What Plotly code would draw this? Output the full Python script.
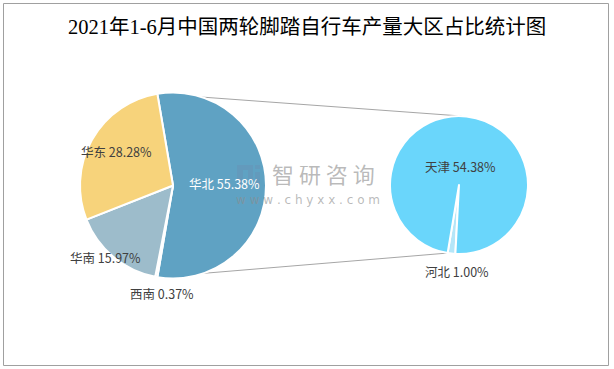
import math
import plotly.graph_objects as go

W, H = 614, 369

title_text = "2021年1-6月中国两轮脚踏自行车产量大区占比统计图"

main_labels = ["华北", "西南", "华南", "华东"]
main_values = [55.38, 0.37, 15.97, 28.28]
main_colors = ["#5FA2C3", "#8FAFC0", "#9DBCCB", "#F7D37B"]

sub_labels = ["河北", "天津"]
sub_values = [1.00, 54.38]
sub_colors = ["#B5E6F8", "#6AD6FB"]

# geometry in pixels
L_CX, L_CY, L_R = 173, 185.5, 93
R_CX, R_CY, R_R = 459, 185, 69

# label radial factors, pixel nudges and colors
main_lab_r = [0.56, 1.16, 1.05, 0.71]
main_lab_d = [(-1, -2), (8, 2), (-5, -3), (1, -2)]
main_lab_c = ["#FFFFFF", "#404040", "#404040", "#404040"]
sub_lab_r = [1.26, 0.25]
sub_lab_d = [(7, 0), (0, -1)]
sub_lab_c = ["#404040", "#404040"]

FONT = "Microsoft YaHei, Noto Sans CJK SC, sans-serif"
LAB_SIZE = 12.5


def domain(cx, cy, r):
    return dict(x=[(cx - r) / W, (cx + r) / W], y=[1 - (cy + r) / H, 1 - (cy - r) / H])


def px(x, y):
    return x / W, 1 - y / H


def pt(cx, cy, r, ang):
    a = math.radians(ang)
    return cx + r * math.sin(a), cy - r * math.cos(a)


def spans(values, rot):
    tot = sum(values)
    a = rot
    out = []
    for v in values:
        s = v / tot * 360
        out.append((a, a + s))
        a += s
    return out


main_rot = 90 - main_values[0] / sum(main_values) * 360 / 2
sub_rot = 183

fig = go.Figure()
fig.add_trace(go.Pie(
    labels=main_labels, values=main_values, sort=False, direction="clockwise",
    rotation=main_rot, domain=domain(L_CX, L_CY, L_R),
    marker=dict(colors=main_colors, line=dict(color="white", width=2)),
    textinfo="none", hoverinfo="skip", showlegend=False,
))
fig.add_trace(go.Pie(
    labels=sub_labels, values=sub_values, sort=False, direction="clockwise",
    rotation=sub_rot, domain=domain(R_CX, R_CY, R_R),
    marker=dict(colors=sub_colors, line=dict(color="white", width=2)),
    textinfo="none", hoverinfo="skip", showlegend=False,
))

annotations = []
shapes = []

# title
tx, ty = px(W / 2, 27)
annotations.append(dict(x=tx, y=ty, xref="paper", yref="paper", text=title_text,
                        showarrow=False, xanchor="center", yanchor="middle",
                        font=dict(family="Liberation Serif, Noto Sans CJK SC, serif", size=20.5, color="#000000")))


def add_labels(sp, labels, values, rfs, ds, cols, cx, cy, r):
    for (a0, a1), lab, val, rf, (dx, dy), col in zip(sp, labels, values, rfs, ds, cols):
        x, y = pt(cx, cy, r * rf, (a0 + a1) / 2)
        xp, yp = px(x + dx, y + dy)
        annotations.append(dict(x=xp, y=yp, xref="paper", yref="paper", text=f"{lab} {val:.2f}%",
                                showarrow=False, xanchor="center", yanchor="middle",
                                font=dict(family=FONT, size=LAB_SIZE, color=col)))


main_sp = spans(main_values, main_rot)
sub_sp = spans(sub_values, sub_rot)
add_labels(main_sp, main_labels, main_values, main_lab_r, main_lab_d, main_lab_c, L_CX, L_CY, L_R)
add_labels(sub_sp, sub_labels, sub_values, sub_lab_r, sub_lab_d, sub_lab_c, R_CX, R_CY, R_R)

# connector lines
p1 = pt(L_CX, L_CY, L_R, main_sp[0][0])
p2 = pt(R_CX, R_CY, R_R, 2)
p3 = pt(L_CX, L_CY, L_R, main_sp[0][1])
p4 = pt(R_CX, R_CY, R_R, sub_sp[0][1])
for a, b in [(p1, p2), (p3, p4)]:
    x0, y0 = px(*a)
    x1, y1 = px(*b)
    shapes.append(dict(type="line", xref="paper", yref="paper", x0=x0, y0=y0, x1=x1, y1=y1,
                       line=dict(color="#A6A6A6", width=1), layer="below"))

# border
bx0, by0 = px(3.5, 3.5)
bx1, by1 = px(608.5, 365.5)
shapes.append(dict(type="rect", xref="paper", yref="paper", x0=bx0, y0=by0, x1=bx1, y1=by1,
                   line=dict(color="#A0A0A0", width=1), layer="below"))

# watermark logo
logo_col = "rgba(110,140,175,0.35)"
for (ax0, ay0, ax1, ay1) in [(237, 165, 243, 187), (243, 165, 253, 170), (248, 170, 253, 180),
                             (255, 165, 260, 169), (255, 172, 260, 187)]:
    x0, y0 = px(ax0, ay0)
    x1, y1 = px(ax1, ay1)
    shapes.append(dict(type="rect", xref="paper", yref="paper", x0=x0, y0=y0, x1=x1, y1=y1,
                       line=dict(width=0), fillcolor=logo_col, layer="above"))

wx, wy = px(323.5, 191)
annotations.append(dict(x=wx, y=wy, xref="paper", yref="paper", text="智 研 咨 询",
                        showarrow=False, xanchor="center", yanchor="bottom",
                        font=dict(family="Noto Sans CJK SC", size=22, color="rgba(140,140,140,0.6)")))
wx2, wy2 = px(307.5, 191)
annotations.append(dict(x=wx2, y=wy2, xref="paper", yref="paper", text="w w w . c h y x x . c o m",
                        showarrow=False, xanchor="center", yanchor="top",
                        font=dict(family="DejaVu Sans", size=12, color="rgba(140,140,140,0.6)")))

fig.update_layout(
    width=W, height=H, margin=dict(l=0, r=0, t=0, b=0),
    paper_bgcolor="white", plot_bgcolor="white",
    annotations=annotations, shapes=shapes,
)

fig.write_html("out.html", config={"displayModeBar": False},
               post_script="document.body.style.margin='0';")
